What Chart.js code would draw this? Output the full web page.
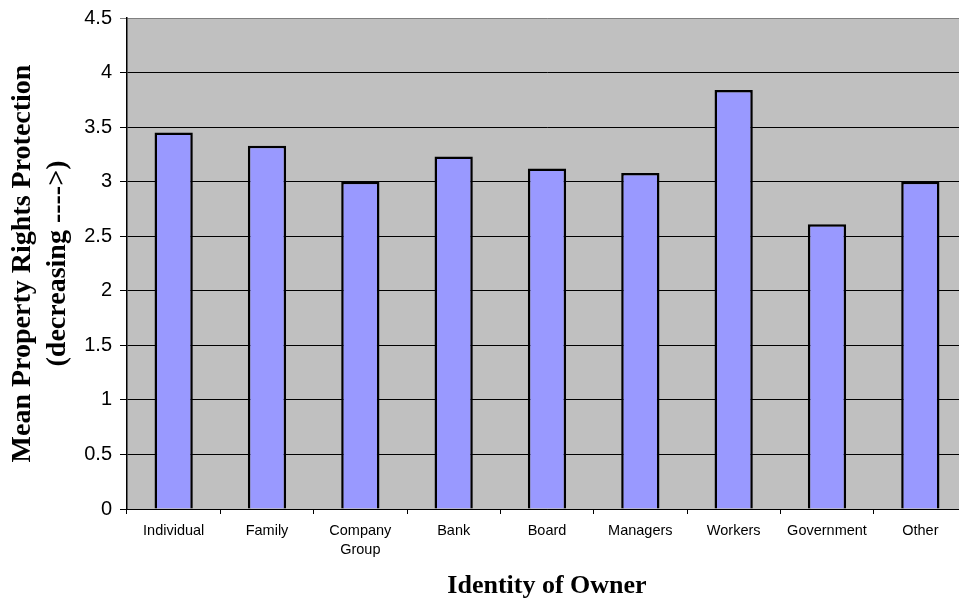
<!DOCTYPE html>
<html>
<head>
<meta charset="utf-8">
<script src="https://cdn.jsdelivr.net/npm/chart.js@4"></script>
<style>
  html, body { margin: 0; padding: 0; background: #fff; overflow: hidden; }
  /* the plot runs a little past the right edge of the picture */
  #wrap { width: 959px; height: 604px; overflow: hidden; }
</style>
</head>
<body>
<div id="wrap"><canvas id="ownerChart" width="967" height="604"></canvas></div>
<script>
// Chart data
const categories = ["Individual", "Family", ["Company", "Group"], "Bank", "Board",
  "Managers", "Workers", "Government", "Other"];
const meanProtection = [3.45, 3.33, 3.0, 3.23, 3.12, 3.08, 3.84, 2.61, 3.0];
const yTickLabels = ["0", "0.5", "1", "1.5", "2", "2.5", "3", "3.5", "4", "4.5"];

// grey plot background
const plotBackground = {
  id: "plotBackground",
  beforeDraw(chart) {
    const { ctx, chartArea } = chart;
    ctx.save();
    ctx.fillStyle = "#c0c0c0";
    ctx.fillRect(chartArea.left, chartArea.top,
      chartArea.right - chartArea.left, chartArea.bottom - chartArea.top);
    ctx.restore();
  },
};

const ctx = document.getElementById("ownerChart").getContext("2d");
new Chart(ctx, {
  type: "bar",
  data: {
    labels: categories,
    datasets: [
      {
        label: "Mean",
        data: meanProtection,
        backgroundColor: "#9999ff",
        borderColor: "#000000",
        borderWidth: 2.5,
        barPercentage: 0.41,
        categoryPercentage: 1,
      },
    ],
  },
  options: {
    responsive: false,
    animation: false,
    layout: {
      padding: { top: 17, right: 0, bottom: 0, left: 0 },
    },
    plugins: {
      legend: { display: false },
      tooltip: { enabled: false },
    },
    scales: {
      x: {
        afterFit(scale) {
          scale.height = 95;
        },
        grid: {
          drawOnChartArea: false,
          drawTicks: true,
          tickLength: 5,
          color: "#000000",
          offset: true,
        },
        border: { display: true, color: "#000000", width: 1 },
        ticks: {
          color: "#000000",
          padding: 7,
          maxRotation: 0,
          autoSkip: false,
          font: { family: "'Liberation Sans', Arial, sans-serif", size: 14.5, lineHeight: 1.35 },
        },
        title: {
          display: true,
          text: "Identity of Owner",
          color: "#000000",
          padding: { top: 0, bottom: 2 },
          font: { family: "'Liberation Serif', 'Times New Roman', serif", size: 26, weight: "bold", lineHeight: 1.2 },
        },
      },
      y: {
        min: 0,
        max: 4.5,
        afterFit(scale) {
          scale.width = 127;
        },
        grid: {
          color: (c) => (c.tick && c.tick.value === 4.5 ? "#808080" : "#000000"),
          tickLength: 7,
          lineWidth: 1,
        },
        border: { display: true, color: "#000000", width: 1.5 },
        ticks: {
          stepSize: 0.5,
          color: "#000000",
          padding: 8,
          font: { family: "'Liberation Sans', Arial, sans-serif", size: 20, lineHeight: 1 },
          callback: (value, index) => yTickLabels[index],
        },
        title: {
          display: true,
          text: ["Mean Property Rights Protection", "(decreasing ---->)"],
          color: "#000000",
          padding: { top: 5, bottom: 0 },
          font: { family: "'Liberation Serif', 'Times New Roman', serif", size: 28, weight: "bold", lineHeight: 1.25 },
        },
      },
    },
  },
  plugins: [plotBackground],
});
</script>
</body>
</html>
